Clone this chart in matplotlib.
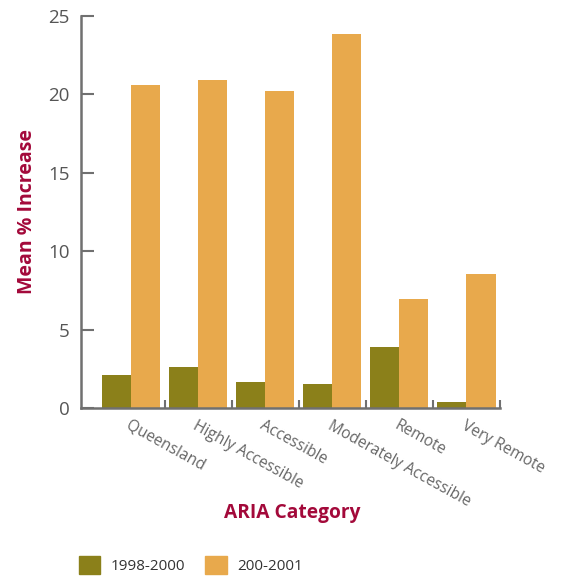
import matplotlib
matplotlib.use("Agg")
import matplotlib.pyplot as plt
import numpy as np
from matplotlib.patches import Patch

categories = ["Queensland", "Highly Accessible", "Accessible", "Moderately Accessible", "Remote", "Very Remote"]
series_names = ["1998-2000", "200-2001"]
v_1998_2000 = [2.1, 2.6, 1.65, 1.5, 3.9, 0.4]
v_2000_2001 = [20.6, 20.9, 20.2, 23.85, 6.95, 8.55]
yticks = [0, 5, 10, 15, 20, 25]

green = "#8b801a"
orange = "#e8a94c"
crimson = "#a3093a"
gray = "#707070"

plt.rcParams['font.family'] = ['Open Sans', 'DejaVu Sans']

fig = plt.figure(figsize=(5.63, 5.78), dpi=100)
ax = fig.add_axes([81/563, 1-408/578, (500-81)/563, (408-16)/578])

x = np.arange(len(categories))
w = 0.433
ax.bar(x - w/2, v_1998_2000, w, color=green, label=series_names[0])
ax.bar(x + w/2, v_2000_2001, w, color=orange, label=series_names[1])

ax.set_xlim(-0.5 - 16.5/67, 5.5)
ax.set_ylim(0, 25)
ax.set_yticks(yticks)
ax.set_yticklabels([str(t) for t in yticks], fontsize=13.5, color="#555555")
ax.tick_params(axis='y', direction='in', length=9, width=1.5, color=gray, pad=8)

ax.set_xticks(x)
ax.set_xticklabels(categories, rotation=-29, ha='left', rotation_mode='anchor',
                   fontsize=11.2, color="#666666")
ax.tick_params(axis='x', which='major', length=0, pad=7)
ax.set_xticks(np.arange(0.5, 6, 1), minor=True)
ax.tick_params(axis='x', which='minor', direction='in', length=6, width=1.5, color=gray)

for s in ['top', 'right']:
    ax.spines[s].set_visible(False)
for s in ['left', 'bottom']:
    ax.spines[s].set_color(gray)
    ax.spines[s].set_linewidth(1.8)

ax.set_ylabel("Mean % Increase", fontsize=14, fontweight='bold', color=crimson, labelpad=8)
fig.text(292/563, 1-513/578, "ARIA Category", fontsize=13.8, fontweight='bold',
         color=crimson, ha='center', va='center')

handles = [Patch(color=green), Patch(color=orange)]
fig.legend(handles, series_names, loc='lower left', bbox_to_anchor=(68/563, -0.012),
           ncol=2, frameon=False, fontsize=11, handlelength=1.4, handleheight=1.4,
           handletextpad=0.7, columnspacing=1.3, labelcolor="#333333", borderpad=0.2)

fig.savefig("out.png", dpi=100)
